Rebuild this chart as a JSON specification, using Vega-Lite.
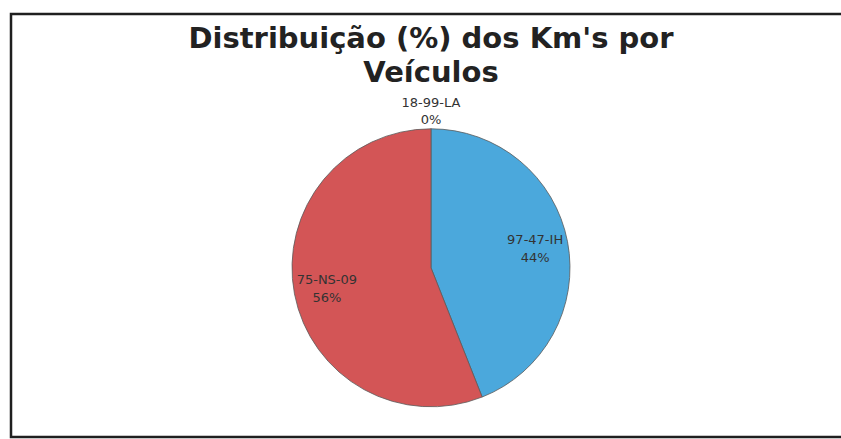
{
  "$schema": "https://vega.github.io/schema/vega-lite/v6.json",
  "width": 840,
  "height": 423,
  "autosize": "none",
  "padding": {"left": 11, "top": 14, "right": 0, "bottom": 2},
  "background": "white",
  "config": {"view": {"stroke": "#1f1f1f", "strokeWidth": 2.5}},
  "title": {
    "text": ["Distribuição (%) dos Km's por", "Veículos"],
    "font": "DejaVu Sans",
    "fontSize": 29,
    "fontWeight": "bold",
    "color": "#222222",
    "anchor": "middle",
    "offset": -74,
    "lineHeight": 34
  },
  "data": {
    "values": [
      {"veiculo": "18-99-LA", "pct": 0.0},
      {"veiculo": "97-47-IH", "pct": 0.44},
      {"veiculo": "75-NS-09", "pct": 0.56}
    ]
  },
  "encoding": {
    "theta": {"field": "pct", "type": "quantitative", "stack": true},
    "order": {"field": "veiculo", "sort": "descending"},
    "y": {"datum": 0.4, "type": "quantitative", "scale": {"domain": [0, 1]}, "axis": null}
  },
  "layer": [
    {
      "mark": {"type": "arc", "outerRadius": 139, "stroke": "#5a5a5a", "strokeWidth": 0.8},
      "encoding": {
        "color": {
          "field": "veiculo",
          "type": "nominal",
          "scale": {"domain": ["18-99-LA", "97-47-IH", "75-NS-09"], "range": ["#9BBB59", "#4BA8DC", "#D35556"]},
          "legend": null
        }
      }
    },
    {
      "transform": [{"filter": "datum.pct > 0"}],
      "mark": {"type": "text", "radius": 106, "dy": -8, "font": "DejaVu Sans", "fontSize": 13, "color": "#333333"},
      "encoding": {"text": {"field": "veiculo", "type": "nominal"}}
    },
    {
      "transform": [{"filter": "datum.pct > 0"}],
      "mark": {"type": "text", "radius": 106, "dy": 10, "font": "DejaVu Sans", "fontSize": 13, "color": "#333333"},
      "encoding": {"text": {"field": "pct", "type": "quantitative", "format": ".0%"}}
    },
    {
      "transform": [{"filter": "datum.pct == 0"}],
      "mark": {"type": "text", "radius": 160, "dy": -5, "font": "DejaVu Sans", "fontSize": 13, "color": "#333333"},
      "encoding": {"text": {"field": "veiculo", "type": "nominal"}}
    },
    {
      "transform": [{"filter": "datum.pct == 0"}],
      "mark": {"type": "text", "radius": 160, "dy": 12, "font": "DejaVu Sans", "fontSize": 13, "color": "#333333"},
      "encoding": {"text": {"field": "pct", "type": "quantitative", "format": ".0%"}}
    }
  ]
}
